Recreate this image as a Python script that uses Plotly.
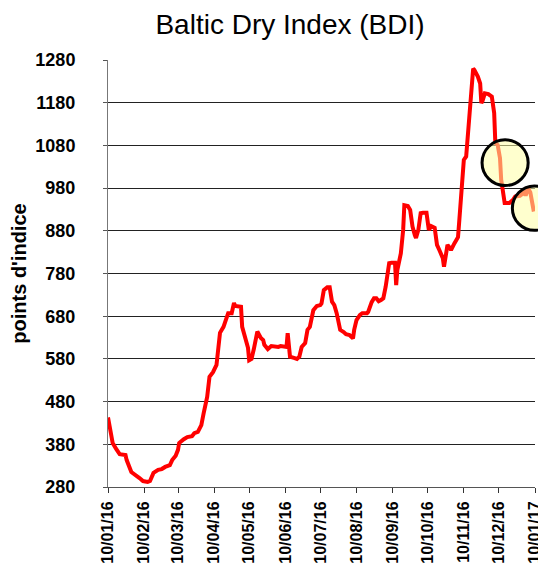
import plotly.graph_objects as go

dates = [
    "2016-01-10", "2016-01-12", "2016-01-14", "2016-01-17", "2016-01-20", "2016-01-25", "2016-01-26",
    "2016-01-30", "2016-02-03", "2016-02-06", "2016-02-09", "2016-02-13", "2016-02-15", "2016-02-18",
    "2016-02-22", "2016-02-25", "2016-02-28", "2016-03-03", "2016-03-05", "2016-03-08", "2016-03-10",
    "2016-03-11", "2016-03-15", "2016-03-18", "2016-03-22", "2016-03-24", "2016-03-27", "2016-03-30",
    "2016-04-01", "2016-04-04", "2016-04-06", "2016-04-09", "2016-04-12", "2016-04-14", "2016-04-15",
    "2016-04-18", "2016-04-20", "2016-04-22", "2016-04-25", "2016-04-27", "2016-04-28", "2016-05-01",
    "2016-05-03", "2016-05-04", "2016-05-07", "2016-05-09", "2016-05-10", "2016-05-12", "2016-05-14",
    "2016-05-15", "2016-05-17", "2016-05-20", "2016-05-22", "2016-05-23", "2016-05-26", "2016-05-29",
    "2016-06-01", "2016-06-04", "2016-06-06", "2016-06-09", "2016-06-11", "2016-06-12", "2016-06-14",
    "2016-06-18", "2016-06-20", "2016-06-22", "2016-06-24", "2016-06-27", "2016-06-29", "2016-07-01",
    "2016-07-03", "2016-07-04", "2016-07-07", "2016-07-10", "2016-07-11", "2016-07-13", "2016-07-16",
    "2016-07-18", "2016-07-20", "2016-07-22", "2016-07-24", "2016-07-26", "2016-07-27", "2016-07-30",
    "2016-08-01", "2016-08-04", "2016-08-07", "2016-08-08", "2016-08-10", "2016-08-13", "2016-08-15",
    "2016-08-19", "2016-08-20", "2016-08-23", "2016-08-25", "2016-08-27", "2016-08-29", "2016-08-31",
    "2016-09-02", "2016-09-04", "2016-09-07", "2016-09-09", "2016-09-12", "2016-09-13", "2016-09-14",
    "2016-09-17", "2016-09-19", "2016-09-20", "2016-09-23", "2016-09-25", "2016-09-27", "2016-09-29",
    "2016-09-30", "2016-10-02", "2016-10-04", "2016-10-06", "2016-10-09", "2016-10-11", "2016-10-13",
    "2016-10-16", "2016-10-18", "2016-10-20", "2016-10-23", "2016-10-24", "2016-10-27", "2016-10-29",
    "2016-10-30", "2016-11-02", "2016-11-05", "2016-11-06", "2016-11-08", "2016-11-10", "2016-11-12",
    "2016-11-14", "2016-11-16", "2016-11-18", "2016-11-19", "2016-11-22", "2016-11-24", "2016-11-25",
    "2016-11-26", "2016-11-28", "2016-12-01", "2016-12-02", "2016-12-04", "2016-12-06", "2016-12-07",
    "2016-12-09", "2016-12-11", "2016-12-12", "2016-12-14", "2016-12-15", "2016-12-19", "2016-12-22",
    "2016-12-24", "2016-12-28", "2016-12-30", "2017-01-01", "2017-01-02", "2017-01-04", "2017-01-06",
    "2017-01-09",
]
values = [
    443, 413, 383, 369, 357, 355, 343,
    315, 308, 301, 294, 292, 294, 313,
    320, 322, 327, 331, 343, 353, 367,
    383, 392, 397, 399, 406, 409, 425,
    453, 491, 538, 549, 566, 609, 641,
    655, 669, 687, 687, 711, 704, 704,
    702, 655, 624, 606, 577, 580, 603,
    617, 644, 629, 624, 613, 603, 610,
    608, 608, 610, 610, 608, 640, 585,
    582, 580, 585, 608, 617, 648, 655,
    676, 694, 704, 706, 710, 741, 748,
    748, 714, 706, 687, 659, 648, 643,
    638, 636, 628, 648, 671, 683, 687,
    687, 690, 713, 722, 722, 715, 718,
    722, 749, 804, 805, 805, 753, 788,
    827, 882, 940, 938, 929, 890, 870,
    863, 882, 921, 922, 922, 882, 891,
    887, 847, 835, 816, 796, 847, 840,
    835, 851, 865, 900, 976, 1046, 1054,
    1124, 1210, 1260, 1257, 1241, 1225, 1179,
    1184, 1202, 1200, 1198, 1194, 1156, 1086,
    1081, 1050, 1000, 960, 945, 945, 952,
    960, 962, 966, 975, 962, 980, 970,
    925,
]

tick_dates = ["2016-01-10", "2016-02-10", "2016-03-10", "2016-04-10", "2016-05-10", "2016-06-10",
              "2016-07-10", "2016-08-10", "2016-09-10", "2016-10-10", "2016-11-10", "2016-12-10",
              "2017-01-10"]
tick_labels = ["10/01/16", "10/02/16", "10/03/16", "10/04/16", "10/05/16", "10/06/16", "10/07/16",
               "10/08/16", "10/09/16", "10/10/16", "10/11/16", "10/12/16", "10/01/17"]
y_ticks = [280, 380, 480, 580, 680, 780, 880, 980, 1080, 1180, 1280]

FONT = "Arial, Liberation Sans, sans-serif"

fig = go.Figure()
fig.add_trace(go.Scatter(x=dates, y=values, mode="lines",
                         line=dict(color="#FF0000", width=4), showlegend=False,
                         hoverinfo="skip"))

# highlight circles (paper coordinates of plot area)
circles = [
    (0.876, 0.984, 0.706, 0.813),
    (0.947, 1.050, 0.601, 0.705),
]
for x0, x1, y0, y1 in circles:
    fig.add_shape(type="circle", xref="paper", yref="paper", x0=x0, x1=x1, y0=y0, y1=y1,
                  layer="above", fillcolor="rgba(255,255,165,0.55)",
                  line=dict(color="black", width=3))

# page body has an 8px margin, so the figure is 8px smaller than the window
W, H = 538, 558
fig.update_layout(
    width=W, height=H,
    margin=dict(l=100, r=11, t=52, b=79),
    paper_bgcolor="white", plot_bgcolor="white",
    font=dict(family=FONT, color="black"),
    title=dict(text="Baltic Dry Index (BDI)", x=282 / W, xanchor="center",
               y=1 - 16 / H, yanchor="middle", font=dict(size=28, family=FONT, color="black")),
    xaxis=dict(type="date", range=["2016-01-10", "2017-01-10"], automargin=False,
               tickvals=tick_dates, ticktext=tick_labels, tickangle=-90,
               tickfont=dict(size=16, family=FONT, color="black", weight="bold"),
               ticks="outside", ticklen=5, tickcolor="#333", showgrid=False,
               showline=True, linecolor="#555", linewidth=1, ticklabelstandoff=2),
    yaxis=dict(range=[280, 1280], tickvals=y_ticks, automargin=False,
               tickfont=dict(size=18, family=FONT, color="black", weight="bold"),
               ticks="outside", ticklen=4, tickcolor="#555", ticklabelstandoff=24,
               showgrid=True, gridcolor="#222", gridwidth=1,
               showline=True, linecolor="#777", linewidth=1, zeroline=False,
               title=dict(text="points d'indice", standoff=6,
                          font=dict(size=20, family=FONT, color="black", weight="bold"))),
)

fig.write_html("out.html")
